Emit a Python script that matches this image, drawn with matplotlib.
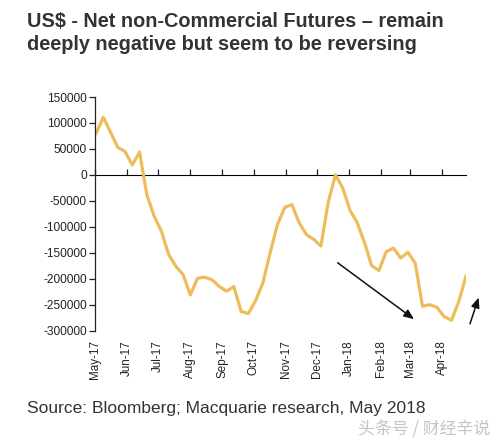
import matplotlib.pyplot as plt
import matplotlib.dates as mdates
import pandas as pd

# weekly net non-commercial positions
dates = pd.date_range("2017-05-02", periods=52, freq="7D")
net_pos = [80000, 111000, 82000, 53000, 45000, 19000, 44000, -38000,
           -79000, -108000, -153000, -176000, -192000, -231000, -199000, -197000,
           -202000, -215000, -224000, -215000, -263000, -267000, -242000, -208000,
           -150000, -96000, -63000, -57000, -92000, -115000, -124000, -137000,
           -53000, 0, -25000, -68000, -92000, -130000, -175000, -184000,
           -148000, -141000, -160000, -149000, -170000, -253000, -250000, -255000,
           -273000, -280000, -244000, -195000]

month_ticks = pd.date_range("2017-05-01", "2018-04-01", freq="MS")
yticks = [150000, 100000, 50000, 0, -50000, -100000, -150000, -200000, -250000, -300000]

# trend arrows (start, end) in data units
arrow_down = (("2017-12-19", -166000), ("2018-03-07", -281000))
arrow_up = (("2018-04-27", -292000), ("2018-05-07", -231000))

plt.rcParams['font.family'] = ['Liberation Sans', 'DejaVu Sans']

fig = plt.figure(figsize=(5, 4.44), dpi=100)
ax = fig.add_axes([0.19, 0.2552, 0.742, 0.5263])

ax.plot(dates, net_pos, color='#EDBD5C', lw=2.3, solid_joinstyle='round')
ax.set_xlim(dates[0], dates[-1])
ax.set_ylim(-300000, 150000)
ax.set_yticks(yticks)
ax.set_yticklabels([str(v) for v in yticks])

for s in ['top', 'right', 'bottom']:
    ax.spines[s].set_visible(False)
ax.spines['left'].set_color('#222222')
ax.spines['left'].set_linewidth(0.9)
ax.tick_params(axis='y', direction='out', length=4, width=0.9, color='#222222',
               labelsize=8.6, pad=2, labelcolor='#222222')

# month labels at bottom, no tick marks there
ax.set_xticks(month_ticks)
ax.xaxis.set_major_formatter(mdates.DateFormatter('%b-%y'))
ax.tick_params(axis='x', length=0, labelsize=8.4, pad=7, labelrotation=90,
               labelcolor='#222222')

# zero axis line with the month ticks
zero = ax.secondary_xaxis(2 / 3)
zero.set_xticks(month_ticks)
zero.set_xticklabels([])
zero.spines['bottom'].set_color('#222222')
zero.spines['bottom'].set_linewidth(0.9)
zero.tick_params(axis='x', direction='out', length=4, width=0.9, color='#222222')

for (x0, y0), (x1, y1) in [arrow_down, arrow_up]:
    ax.annotate('', xy=(pd.Timestamp(x1), y1), xytext=(pd.Timestamp(x0), y0),
                annotation_clip=False,
                arrowprops=dict(arrowstyle='-|>,head_length=0.6,head_width=0.25',
                                color='#111111', lw=1.1))

fig.text(0.054, 0.972, "US$ - Net non-Commercial Futures \u2013 remain\n"
         "deeply negative but seem to be reversing",
         fontsize=14.3, fontweight='bold', color='#333333', va='top',
         linespacing=1.25)
fig.text(0.054, 0.081, "Source: Bloomberg; Macquarie research, May 2018",
         fontsize=12.5, color='#333333', va='center')
fig.text(0.98, 0.032, "头条号 / 财经辛说", fontsize=12.2, color='#c4c4c4',
         ha='right', va='center', family=['Noto Sans CJK SC', 'DejaVu Sans'])

fig.savefig("out.png", dpi=100)
